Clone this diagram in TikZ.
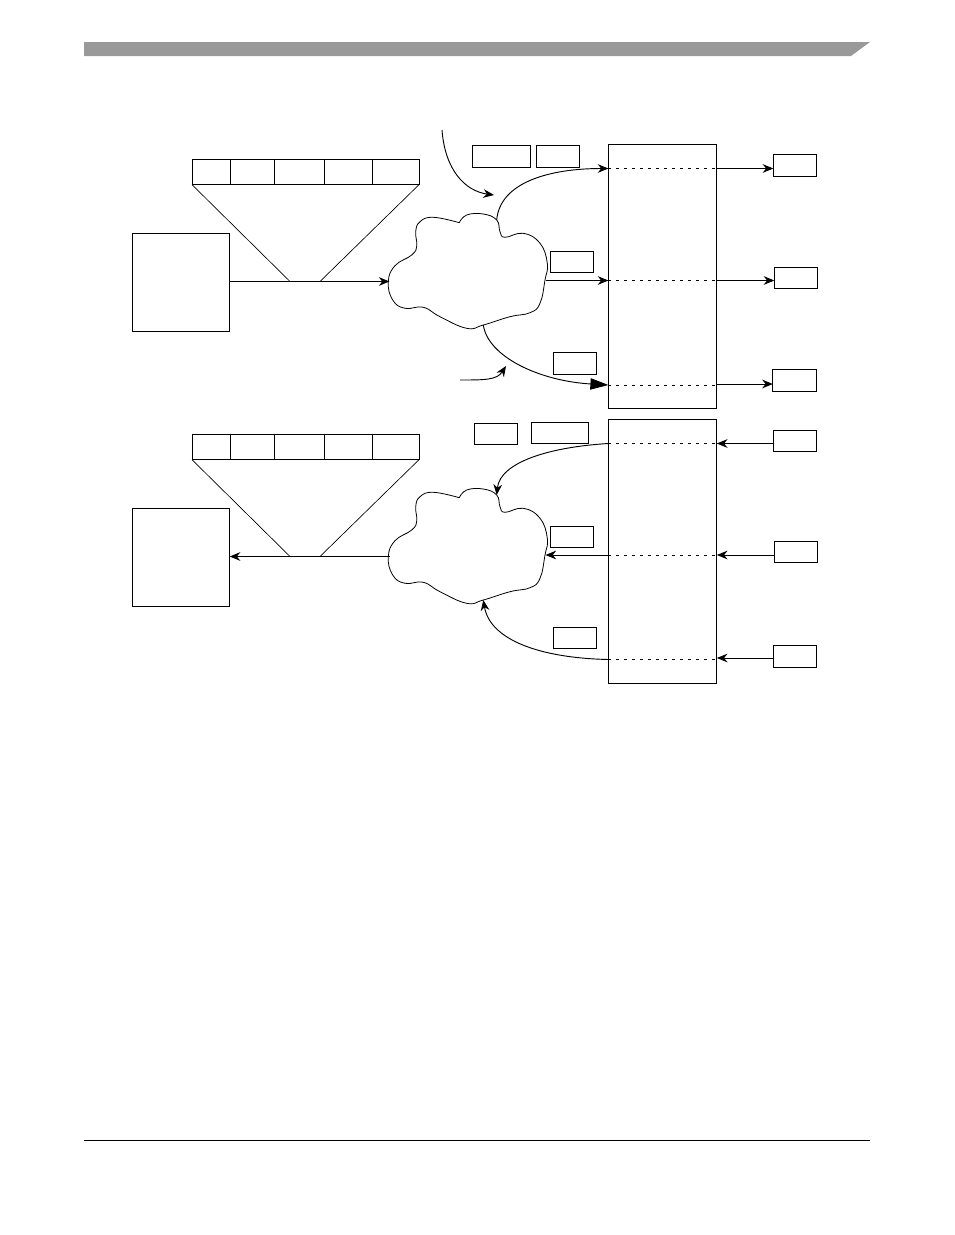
\documentclass[tikz,border=0pt]{standalone}
\usetikzlibrary{arrows.meta,positioning}
\definecolor{BannerGrey}{HTML}{999999}
\tikzset{
  cellbox/.style={draw=black,line width=0.75pt,outer sep=0pt,minimum height=19pt,inner sep=0pt},
  tagbox/.style={draw=black,line width=0.75pt,outer sep=0pt,minimum width=32.5pt,minimum height=16pt,inner sep=0pt},
  hostbox/.style={draw=black,line width=0.75pt,outer sep=0pt,minimum width=73pt,minimum height=73.5pt,inner sep=0pt},
  tablebox/.style={draw=black,line width=0.75pt,outer sep=0pt,minimum width=81.5pt,minimum height=198pt,inner sep=0pt},
  flow/.style={line width=0.7pt,-{Stealth[length=8pt,width=6.5pt]}},
  bigflow/.style={line width=0.7pt,-{Triangle[length=13.5pt,width=8.5pt]}},
  thin line/.style={line width=0.5pt},
  rowline/.style={line width=0.7pt,dash pattern=on 2.25pt off 3.75pt},
  puff/.pic={
    \draw[line width=0.6pt] plot[smooth,tension=0.75] coordinates {
      (459.3,222.7) (433.3,217.3) (420,221.7) (415.7,231.7) (416.7,246)
      (411.7,255) (395,265.7) (388.3,281.7) (392.7,300) (405,308.3)
      (423.3,307.3) (440,316.7) (466.7,328.3) (483.3,325) (510,316.7)
      (530,312.7) (540,303.3) (545,280) (547.3,263.3) (540,243.3)
      (523.3,233.3) (505,237.3) (500,231.7) (496.7,220) (483.3,214)
      (466.7,215) (459.3,222.7)};
    \coordinate (-top) at (496.7,220);
    \coordinate (-left) at (389.5,281.5);
    \coordinate (-right) at (545.5,280.5);
    \coordinate (-low) at (483.3,325);
  }
}
\begin{document}
\begin{tikzpicture}[x=0.75pt,y=-0.75pt]
  \useasboundingbox (0,0) rectangle (954,1235);
  % page furniture
  \fill[BannerGrey] (84,42) -- (870,42) -- (851,56) -- (84,56) -- cycle;
  \draw[line width=0.75pt] (84,1140.5) -- (870,1140.5);

  % upper half
  \node[hostbox] (hostA) at (181,282) {};
  \node[cellbox,minimum width=28.5pt] (a1) at (211,172) {};
  \node[cellbox,minimum width=33pt,right=0pt of a1] (a2) {};
  \node[cellbox,minimum width=37.5pt,right=0pt of a2] (a3) {};
  \node[cellbox,minimum width=36pt,right=0pt of a3] (a4) {};
  \node[cellbox,minimum width=35.25pt,right=0pt of a4] (a5) {};
  \coordinate (fanAl) at (290,281.5);
  \coordinate (fanAr) at (320,281.5);
  \draw[thin line] (a1.south west) -- (fanAl);
  \draw[thin line] (a5.south east) -- (fanAr);
  \pic (cloudA) at (0,0) {puff};
  \draw[flow] (hostA.east |- cloudA-left) -- (cloudA-left);

  \node[tablebox] (tabA) at (662.5,276) {};
  \node[tagbox,minimum width=44pt] (tagA1) at (501.5,156.5) {};
  \node[tagbox] (tagA2) at (558,156.5) {};
  \node[tagbox] (tagA3) at (571.8,261.8) {};
  \node[tagbox] (tagA4) at (575,363.5) {};
  \node[tagbox] (outA1) at (795,165.5) {};
  \node[tagbox] (outA2) at (796,277.8) {};
  \node[tagbox] (outA3) at (794.5,380.5) {};
  \coordinate (rowA1) at (608.4,168.5);
  \coordinate (rowA2) at (608.4,280.5);
  \coordinate (rowA3) at (608.4,385);
  \foreach \r in {1,2,3} \draw[rowline] (rowA\r) -- (rowA\r -| tabA.east);
  \draw[flow] (cloudA-top) .. controls (500,182) and (550,168.5) .. (rowA1);
  \draw[flow] (cloudA-right) -- (rowA2);
  \draw[bigflow] (cloudA-low) .. controls (488,357) and (540,381) .. (rowA3);
  \coordinate (noteA1a) at (442,130);
  \coordinate (noteA1b) at (494,195);
  \coordinate (noteA2a) at (460,380);
  \coordinate (noteA2b) at (506,366);
  \draw[flow] (noteA1a) .. controls (445,170) and (465,191) .. (noteA1b);
  \draw[flow] (noteA2a) .. controls (485,380) and (497,380) .. (noteA2b);
  \draw[flow] (tabA.east |- rowA1) -- (outA1.west |- rowA1);
  \draw[flow] (tabA.east |- rowA2) -- (outA2.west |- rowA2);
  \draw[flow] (tabA.east |- 0,384) -- (outA3.west |- 0,384);

  % lower half
  \node[hostbox] (hostB) at (181,557) {};
  \node[cellbox,minimum width=28.5pt] (b1) at (211,447) {};
  \node[cellbox,minimum width=33pt,right=0pt of b1] (b2) {};
  \node[cellbox,minimum width=37.5pt,right=0pt of b2] (b3) {};
  \node[cellbox,minimum width=36pt,right=0pt of b3] (b4) {};
  \node[cellbox,minimum width=35.25pt,right=0pt of b4] (b5) {};
  \coordinate (fanBl) at (290,556.5);
  \coordinate (fanBr) at (320,556.5);
  \draw[thin line] (b1.south west) -- (fanBl);
  \draw[thin line] (b5.south east) -- (fanBr);
  \pic (cloudB) at (0,275) {puff};
  \draw[flow] (cloudB-left) -- (hostB.east |- cloudB-left);

  \node[tablebox] (tabB) at (662.5,551) {};
  \node[tagbox] (tagB1) at (495.8,433.8) {};
  \node[tagbox,minimum width=43pt] (tagB2) at (559.8,432.8) {};
  \node[tagbox] (tagB3) at (571.8,536.8) {};
  \node[tagbox] (tagB4) at (575,638.3) {};
  \node[tagbox] (outB1) at (795,440.8) {};
  \node[tagbox] (outB2) at (796,552) {};
  \node[tagbox] (outB3) at (795,656.5) {};
  \coordinate (rowB1) at (608.4,443.5);
  \coordinate (rowB2) at (608.4,555);
  \coordinate (rowB3) at (608.4,659.5);
  \foreach \r in {1,2,3} \draw[rowline] (rowB\r) -- (rowB\r -| tabB.east);
  \draw[flow] (rowB1) .. controls (550,447) and (500,462) .. (cloudB-top);
  \draw[flow] (rowB2) -- (cloudB-right |- rowB2);
  \draw[flow] (rowB3) .. controls (540,658) and (490,640) .. (cloudB-low);
  \draw[flow] (outB1.west |- rowB1) -- (tabB.east |- rowB1);
  \draw[flow] (outB2.west |- rowB2) -- (tabB.east |- rowB2);
  \draw[flow] (outB3.west |- 0,658) -- (tabB.east |- 0,658);
\end{tikzpicture}
\end{document}
